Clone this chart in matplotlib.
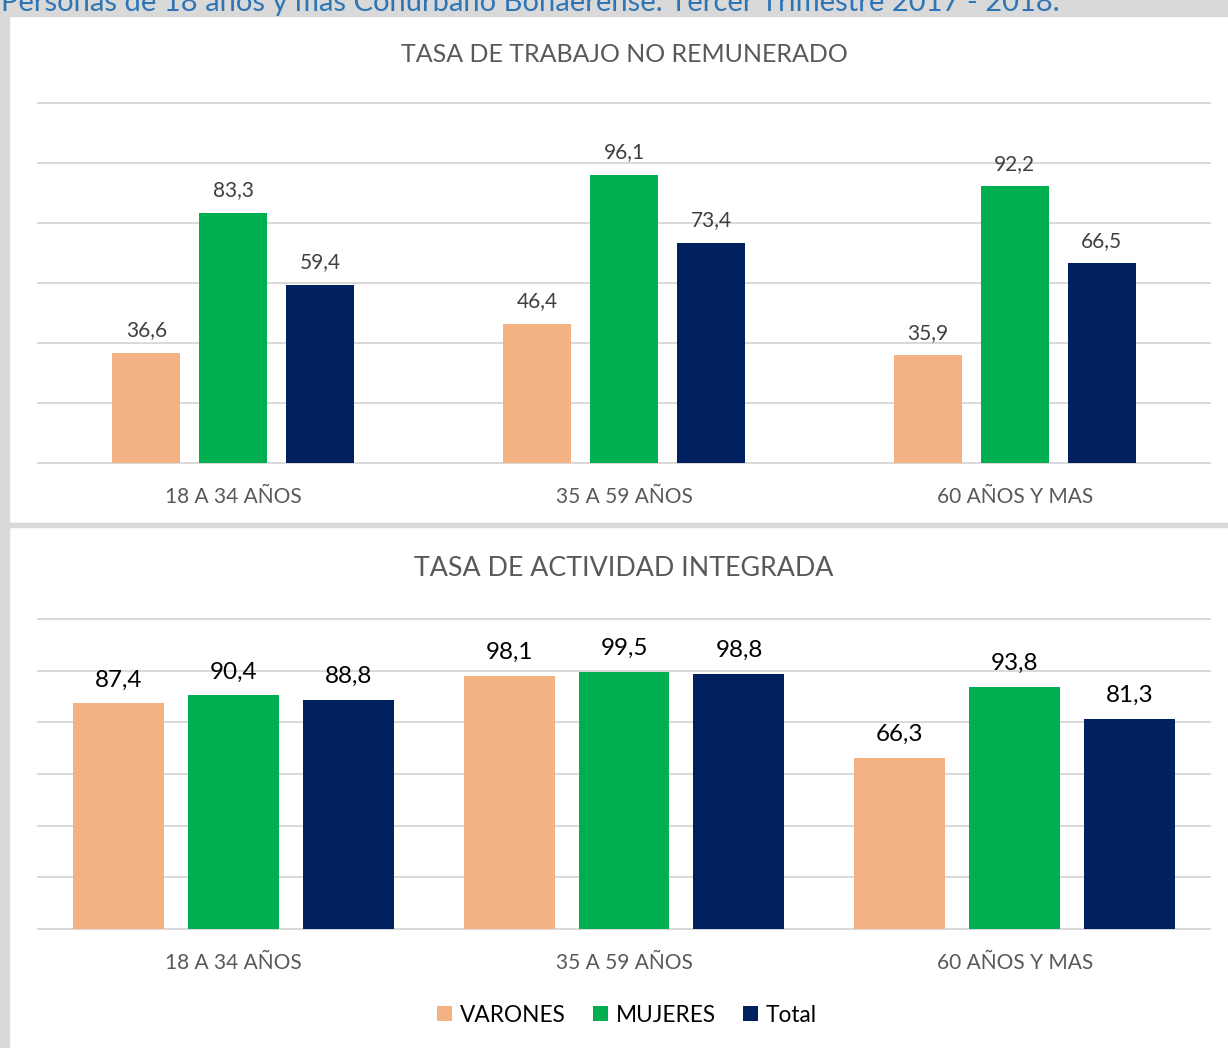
import matplotlib
matplotlib.use('Agg')
import matplotlib.pyplot as plt
from matplotlib.patches import Rectangle
import numpy as np

# fuente parecida a Calibri
plt.rcParams['font.family'] = ['Lato', 'DejaVu Sans']

# datos
grupos = ['18 A 34 AÑOS', '35 A 59 AÑOS', '60 AÑOS Y MAS']
series = ['VARONES', 'MUJERES', 'Total']
colores = ['#F4B183', '#00B050', '#002060']

trabajo_no_rem = {
    'VARONES': [36.6, 46.4, 35.9],
    'MUJERES': [83.3, 96.1, 92.2],
    'Total': [59.4, 73.4, 66.5],
}
actividad_int = {
    'VARONES': [87.4, 98.1, 66.3],
    'MUJERES': [90.4, 99.5, 93.8],
    'Total': [88.8, 98.8, 81.3],
}

W, H = 1228, 1048
fig = plt.figure(figsize=(W / 100, H / 100), dpi=100)
fig.patch.set_facecolor('white')

def px_box(x0, y0, x1, y1):
    # caja en pixeles (y desde arriba) -> coordenadas de figura
    return [x0 / W, 1 - y1 / H, (x1 - x0) / W, (y1 - y0) / H]

# marco gris
fig.add_artist(Rectangle((0, 0), 9 / W, 1, transform=fig.transFigure, color='#d9d9d9', zorder=0))
fig.add_artist(Rectangle((0, 1 - 16 / H), 1, 16 / H, transform=fig.transFigure, color='#d9d9d9', zorder=0))
fig.add_artist(Rectangle((9 / W, 1 - 527 / H), 1, 4 / H, transform=fig.transFigure, color='#d9d9d9', zorder=0))
fig.text(1 / W, 1 - 11 / H, 'Personas de 18 años y más Conurbano Bonaerense. Tercer Trimestre 2017 - 2018.',
         color='#2E75B6', fontsize=21, ha='left', va='baseline')

def grafico(ax, datos, ancho, paso, titulo, y_titulo, fs_tit, fs_lab, col_lab, pad_cat):
    x = np.arange(len(grupos))
    barras = []
    for i, s in enumerate(series):
        b = ax.bar(x + (i - 1) * paso, datos[s], ancho, color=colores[i], label=s, zorder=3)
        barras.append(b)
        for xi, v in zip(x + (i - 1) * paso, datos[s]):
            ax.annotate(('%.1f' % v).replace('.', ','), xy=(xi, v), xytext=(0, 12),
                        textcoords='offset points', ha='center', va='baseline',
                        fontsize=fs_lab, color=col_lab)
    ax.set_xlim(-0.5, 2.5)
    ax.set_ylim(0, 120)
    ax.set_yticks(range(0, 121, 20))
    ax.set_yticklabels([])
    ax.yaxis.grid(True, color='#d9d9d9', linewidth=1.4)
    for l in ax.get_ygridlines():
        l.set_clip_on(False)
    ax.set_axisbelow(True)
    ax.set_xticks(x)
    ax.set_xticklabels(grupos, fontsize=15, color='#595959')
    ax.tick_params(axis='both', length=0)
    ax.tick_params(axis='x', pad=pad_cat)
    for sp in ax.spines.values():
        sp.set_visible(False)
    fig.text(624 / W, 1 - y_titulo / H, titulo, fontsize=fs_tit, color='#595959', ha='center', va='center')
    return barras

ax1 = fig.add_axes(px_box(38, 103, 1210, 463))
grafico(ax1, trabajo_no_rem, 68 / 390.7, 87 / 390.7, 'TASA DE TRABAJO NO REMUNERADO', 54, 18, 15, '#404040', 17)

ax2 = fig.add_axes(px_box(38, 619, 1210, 929))
barras = grafico(ax2, actividad_int, 91 / 390.7, 115 / 390.7, 'TASA DE ACTIVIDAD INTEGRADA', 568, 19.3, 17.5, '#000000', 17)

fig.legend(barras, series, loc='center', bbox_to_anchor=(627 / W, 1 - 1015 / H), ncol=3,
           frameon=False, fontsize=16.3, handlelength=0.65, handleheight=0.65,
           handletextpad=0.35, columnspacing=1.2)

plt.savefig('out.png', dpi=100)
